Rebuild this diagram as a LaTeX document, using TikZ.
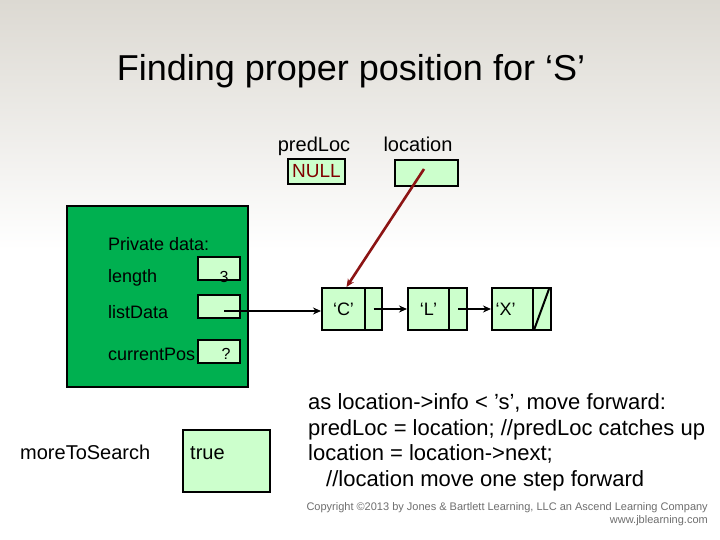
\documentclass[tikz,border=0pt]{standalone}
\usepackage{fontspec}
\setmainfont{Liberation Sans}
\usetikzlibrary{arrows.meta}
\definecolor{bgtop}{RGB}{220,217,210}
\definecolor{cellgreen}{RGB}{204,255,204}
\definecolor{boxgreen}{RGB}{0,176,80}
\definecolor{nullred}{RGB}{128,0,0}
\definecolor{ptrred}{RGB}{140,20,20}
\definecolor{copygray}{RGB}{110,110,110}
\tikzset{
  cell/.style={draw=black, line width=2pt, fill=cellgreen, inner sep=0pt, anchor=center},
  lbl/.style={inner sep=0pt, anchor=base west, font=\fontsize{18}{20}\selectfont},
  ptr/.style={line width=2pt, -{Stealth[length=8pt,width=7pt]}},
  code/.style={inner sep=0pt, anchor=base west, font=\fontsize{22}{24}\selectfont}
}
\begin{document}
\begin{tikzpicture}[x=1pt,y=-1pt]
\useasboundingbox (0,0) rectangle (720,540);
% background
\fill[white] (0,0) rectangle (720,540);
\shade[top color=bgtop, bottom color=white] (0,0) rectangle (720,250);

% title
\node[inner sep=0pt, anchor=base, font=\fontsize{36}{40}\selectfont] (title) at (351,81) {Finding proper position for ‘S’};

% predLoc / location
\node[inner sep=0pt, anchor=base, font=\fontsize{20}{22}\selectfont] (predlbl) at (314,152) {predLoc};
\node[inner sep=0pt, anchor=base, font=\fontsize{20}{22}\selectfont] (loclbl) at (418,152) {location};
\node[cell, minimum width=57pt, minimum height=25pt, font=\fontsize{19}{20}\selectfont, text=nullred] (null) at (316.5,171.5) {NULL};
\node[cell, minimum width=63pt, minimum height=26pt] (loc) at (426.5,173) {};

% private data box
\node[draw=black, line width=2pt, fill=boxgreen, minimum width=181pt, minimum height=181pt, inner sep=0pt] (priv) at (157.5,296.5) {};
\node[lbl] (privlbl) at (108,251) {Private data:};
\node[lbl] (lenlbl) at (108,282) {length};
\node[lbl] (ldlbl) at (108,318) {listData};
\node[lbl] (cplbl) at (108,360) {currentPos};
\node[cell, minimum width=42pt, minimum height=23pt] (len) at (219,268.5) {};
\node[inner sep=0pt, anchor=base, font=\fontsize{16}{18}\selectfont] (three) at (224,282) {3};
\node[cell, minimum width=42pt, minimum height=23pt] (ld) at (219,306.5) {};
\node[cell, minimum width=42pt, minimum height=23pt] (cp) at (219,351.5) {};
\node[inner sep=0pt, anchor=base, font=\fontsize{16}{18}\selectfont] (q) at (226,359) {?};

% linked list
\node[cell, minimum width=43pt, minimum height=42pt, font=\fontsize{18}{20}\selectfont] (cinfo) at (343.5,309) {‘C’};
\node[cell, minimum width=17pt, minimum height=42pt] (cnext) at (373.5,309) {};
\node[cell, minimum width=41pt, minimum height=42pt, font=\fontsize{18}{20}\selectfont] (linfo) at (428.5,309) {‘L’};
\node[cell, minimum width=18pt, minimum height=42pt] (lnext) at (458,309) {};
\node[cell, minimum width=41pt, minimum height=42pt, font=\fontsize{18}{20}\selectfont] (xinfo) at (512.5,309) {\hspace*{-14pt}‘X’};
\node[cell, minimum width=18pt, minimum height=42pt] (xnext) at (542,309) {};
\draw[line width=2pt] ([xshift=2pt,yshift=1pt]xnext.south west) -- ([xshift=-3pt,yshift=-2pt]xnext.north east);

% connectors
\coordinate (ldstart) at (224,311);
\draw[ptr] (ldstart) -- (cinfo.west |- ldstart);
\draw[ptr] (cnext.center) -- (linfo.west);
\draw[ptr] (lnext.center) -- (xinfo.west);
\coordinate (locstart) at (424,169);
\draw[ptr, draw=ptrred, fill=ptrred, line width=2.6pt] (locstart) -- ([xshift=3pt]cinfo.north);

% moreToSearch
\node[inner sep=0pt, anchor=base west, font=\fontsize{20}{22}\selectfont] (mtslbl) at (20,459) {moreToSearch};
\node[cell, minimum width=87pt, minimum height=62pt] (mts) at (226.5,461) {};
\node[inner sep=0pt, anchor=base west, font=\fontsize{20}{22}\selectfont] (truetxt) at (190,459) {true};

% code text
\node[code] (c1) at (308,409) {as location->info < ’s’, move forward:};
\node[code] (c2) at (308,435) {predLoc = location; //predLoc catches up};
\node[code] (c3) at (308,460) {location = location->next;};
\node[code] (c4) at (326,486) {//location move one step forward};

% copyright
\node[inner sep=0pt, anchor=base east, text=copygray, font=\fontsize{11}{12}\selectfont] (copy1) at (708,510) {Copyright ©2013 by Jones \& Bartlett Learning, LLC an Ascend Learning Company};
\node[inner sep=0pt, anchor=base east, text=copygray, font=\fontsize{11}{12}\selectfont] (copy2) at (708,523) {www.jblearning.com};
\end{tikzpicture}
\end{document}
